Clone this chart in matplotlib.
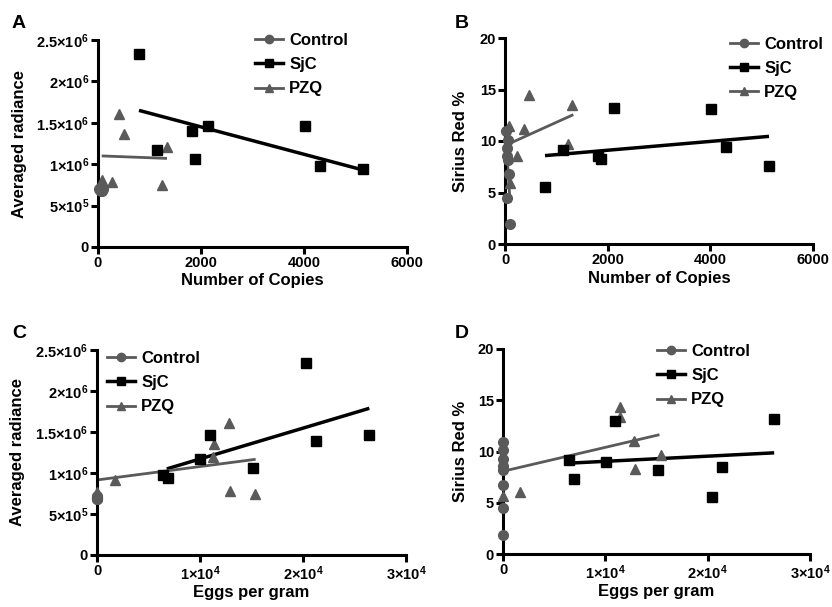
import matplotlib
matplotlib.use("Agg")
import matplotlib.pyplot as plt
from matplotlib.lines import Line2D
from matplotlib.ticker import FixedLocator

plt.rcParams["font.family"] = ["Liberation Sans", "DejaVu Sans"]
plt.rcParams["font.weight"] = "bold"
plt.rcParams["mathtext.fontset"] = "custom"
plt.rcParams["mathtext.rm"] = "Liberation Sans:bold"
plt.rcParams["mathtext.bf"] = "Liberation Sans:bold"
plt.rcParams["mathtext.it"] = "Liberation Sans:bold"

GRAY = "#5a5a5a"

# ---- Panel A: radiance vs number of copies ----
a_ctrl_x = [15, 60, 45, 30, 55, 78, 32, 97]
a_ctrl_y = [0.70e6, 0.68e6, 0.71e6, 0.69e6, 0.70e6, 0.68e6, 0.69e6, 0.70e6]
a_sjc_x = [796, 1152, 1832, 1890, 2136, 4026, 4304, 5146]
a_sjc_y = [2.33e6, 1.17e6, 1.40e6, 1.06e6, 1.465e6, 1.46e6, 0.975e6, 0.938e6]
a_pzq_x = [72, 266, 401, 498, 1249, 1340]
a_pzq_y = [0.81e6, 0.79e6, 1.61e6, 1.36e6, 0.745e6, 1.21e6]
a_ctrl_fit = ([15, 97], [0.695e6, 0.69e6])
a_sjc_fit = ([796, 5146], [1.65e6, 0.93e6])
a_pzq_fit = ([72, 1340], [1.10e6, 1.07e6])

# ---- Panel B: Sirius red vs number of copies ----
b_ctrl_x = [15, 60, 45, 30, 55, 78, 32, 97]
b_ctrl_y = [11.0, 10.1, 9.3, 8.55, 8.2, 6.8, 4.5, 1.9]
b_sjc_x = [779, 1136, 1805, 1870, 2123, 4013, 4299, 5143]
b_sjc_y = [5.53, 9.09, 8.58, 8.25, 13.2, 13.1, 9.39, 7.54]
b_pzq_x = [78, 474, 377, 240, 1234, 1312, 97]
b_pzq_y = [11.42, 14.43, 11.17, 8.51, 9.74, 13.53, 5.92]
b_ctrl_fit = ([20, 100], [10.2, 4.0])
b_sjc_fit = ([779, 5143], [8.58, 10.45])
b_pzq_fit = ([64, 1331], [9.7, 12.56])

# ---- Panel C: radiance vs eggs per gram ----
c_ctrl_x = [0, 0, 0, 0, 0, 0, 0, 0]
c_ctrl_y = [0.68e6, 0.69e6, 0.70e6, 0.71e6, 0.69e6, 0.68e6, 0.70e6, 0.72e6]
c_sjc_x = [20300, 10940, 10030, 6410, 6930, 15150, 21300, 26440]
c_sjc_y = [2.345e6, 1.463e6, 1.167e6, 0.976e6, 0.935e6, 1.057e6, 1.394e6, 1.46e6]
c_pzq_x = [0, 1780, 12800, 11330, 11230, 12880, 15370]
c_pzq_y = [0.772e6, 0.915e6, 1.614e6, 1.354e6, 1.20e6, 0.78e6, 0.74e6]
c_sjc_fit = ([6770, 26440], [1.05e6, 1.789e6])
c_pzq_fit = ([0, 15400], [0.915e6, 1.167e6])

# ---- Panel D: Sirius red vs eggs per gram ----
d_ctrl_x = [0, 0, 0, 0, 0, 0, 0, 0]
d_ctrl_y = [10.9, 10.1, 9.27, 8.55, 8.16, 6.77, 4.49, 1.82]
d_sjc_x = [6440, 6960, 10090, 10960, 15130, 20400, 21400, 26500]
d_sjc_y = [9.2, 7.32, 8.94, 13.0, 8.16, 5.53, 8.5, 13.15]
d_pzq_x = [0, 1690, 11390, 11390, 12820, 12920, 15420]
d_pzq_y = [5.7, 6.02, 14.34, 13.37, 10.99, 8.32, 9.63]
d_sjc_fit = ([6800, 26500], [8.88, 9.87])
d_pzq_fit = ([0, 15290], [8.07, 11.64])

copies_ticks = [0, 2000, 4000, 6000]
copies_labels = ["0", "2000", "4000", "6000"]
eggs_ticks = [0, 10000, 20000, 30000]
eggs_labels = ["0", r"$1{\times}10^{4}$", r"$2{\times}10^{4}$", r"$3{\times}10^{4}$"]
rad_ticks = [0, 0.5e6, 1e6, 1.5e6, 2e6, 2.5e6]
rad_labels = ["0", r"$5{\times}10^{5}$", r"$1{\times}10^{6}$", r"$1.5{\times}10^{6}$",
              r"$2{\times}10^{6}$", r"$2.5{\times}10^{6}$"]
sr_ticks = [0, 5, 10, 15, 20]
sr_labels = ["0", "5", "10", "15", "20"]

fig = plt.figure(figsize=(8.32, 6.07), dpi=100)
W, H = 832, 607


def make_ax(x0, x1, ytop, ybot):
    return fig.add_axes([x0 / W, 1 - ybot / H, (x1 - x0) / W, (ybot - ytop) / H])


def panel(ax, ctrl, sjc, pzq, fits, xt, xl, yt, yl, xlabel, ylabel,
          ylab_x, xlab_y, leg_xy, letter_xy, letter):
    # fit lines
    for (fx, fy), col, lw in fits:
        ax.plot(fx, fy, color=col, lw=lw, solid_capstyle="butt", zorder=2)
    ax.plot(ctrl[0], ctrl[1], "o", color=GRAY, ms=7, mec=GRAY, zorder=3, clip_on=False)
    ax.plot(pzq[0], pzq[1], "^", color=GRAY, ms=7, mec=GRAY, zorder=3, clip_on=False)
    ax.plot(sjc[0], sjc[1], "s", color="black", ms=6.5, zorder=4, clip_on=False)

    ax.set_xlim(xt[0], xt[-1])
    ax.set_ylim(yt[0], yt[-1])
    ax.xaxis.set_major_locator(FixedLocator(xt))
    ax.yaxis.set_major_locator(FixedLocator(yt))
    ax.set_xticklabels(xl)
    ax.set_yticklabels(yl)
    for s in ["top", "right"]:
        ax.spines[s].set_visible(False)
    for s in ["left", "bottom"]:
        ax.spines[s].set_linewidth(2.2)
    ax.tick_params(direction="out", length=5, width=2.2, labelsize=10.5, pad=1.5)
    for lab in ax.get_xticklabels() + ax.get_yticklabels():
        lab.set_fontweight("bold")

    ax.set_xlabel(xlabel, fontsize=12, fontweight="bold")
    ax.set_ylabel(ylabel, fontsize=12, fontweight="bold")
    ax.yaxis.set_label_coords(ylab_x, 0.5)
    ax.xaxis.set_label_coords(0.5, xlab_y)

    handles = [
        Line2D([], [], color=GRAY, lw=2, marker="o", ms=6, label="Control"),
        Line2D([], [], color="black", lw=2.5, marker="s", ms=6, label="SjC"),
        Line2D([], [], color=GRAY, lw=2, marker="^", ms=6, label="PZQ"),
    ]
    ax.legend(handles=handles, loc="upper left",
              bbox_to_anchor=(leg_xy[0] / W, 1 - leg_xy[1] / H),
              bbox_transform=fig.transFigure, frameon=False,
              handlelength=1.7, handletextpad=0.35, labelspacing=0.55,
              borderpad=0, borderaxespad=0,
              prop={"size": 12, "weight": "bold"})
    fig.text(letter_xy[0] / W, 1 - letter_xy[1] / H, letter, fontsize=14,
             fontweight="bold", ha="left", va="baseline")


axA = make_ax(98, 407, 40, 247)
panel(axA, (a_ctrl_x, a_ctrl_y), (a_sjc_x, a_sjc_y), (a_pzq_x, a_pzq_y),
      [(a_ctrl_fit, GRAY, 2), (a_sjc_fit, "black", 2.5), (a_pzq_fit, GRAY, 2)],
      copies_ticks, copies_labels, rad_ticks, rad_labels,
      "Number of Copies", "Averaged radiance", -0.23, -0.125,
      (255, 33), (12, 28), "A")

axB = make_ax(505, 813, 38, 244)
panel(axB, (b_ctrl_x, b_ctrl_y), (b_sjc_x, b_sjc_y), (b_pzq_x, b_pzq_y),
      [(b_ctrl_fit, GRAY, 2), (b_sjc_fit, "black", 2.5), (b_pzq_fit, GRAY, 2)],
      copies_ticks, copies_labels, sr_ticks, sr_labels,
      "Number of Copies", "Sirius Red %", -0.12, -0.13,
      (730, 37), (455, 28), "B")

axC = make_ax(97, 406, 350, 555)
panel(axC, (c_ctrl_x, c_ctrl_y), (c_sjc_x, c_sjc_y), (c_pzq_x, c_pzq_y),
      [(c_sjc_fit, "black", 2.5), (c_pzq_fit, GRAY, 2)],
      eggs_ticks, eggs_labels, rad_ticks, rad_labels,
      "Eggs per gram", "Averaged radiance", -0.233, -0.145,
      (107, 351), (12, 338), "C")

axD = make_ax(503, 810, 349, 554)
panel(axD, (d_ctrl_x, d_ctrl_y), (d_sjc_x, d_sjc_y), (d_pzq_x, d_pzq_y),
      [(d_sjc_fit, "black", 2.5), (d_pzq_fit, GRAY, 2)],
      eggs_ticks, eggs_labels, sr_ticks, sr_labels,
      "Eggs per gram", "Sirius Red %", -0.114, -0.148,
      (657, 344), (455, 338), "D")

fig.savefig("out.png", dpi=100)
